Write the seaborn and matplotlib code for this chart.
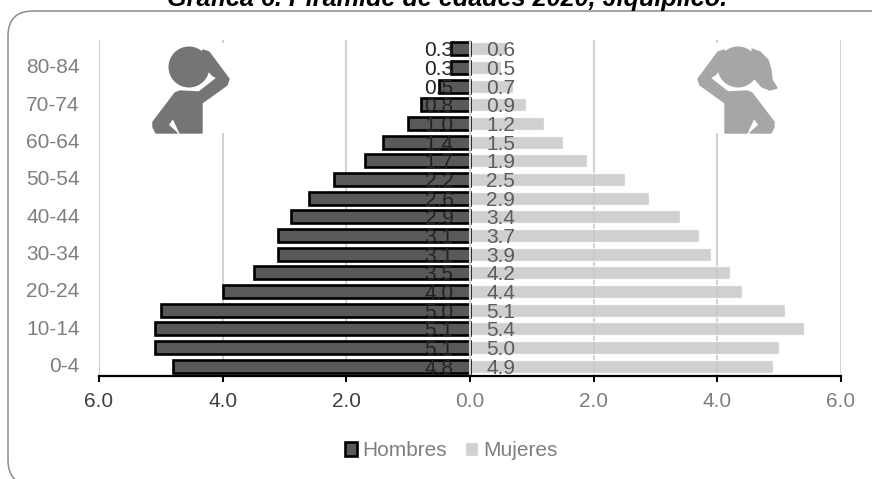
import matplotlib
matplotlib.use("Agg")
import matplotlib.pyplot as plt
from matplotlib.patches import Circle, FancyBboxPatch, Polygon, Rectangle
from matplotlib.transforms import ScaledTranslation
import pandas as pd
import seaborn as sns

# Population share by five-year age group, oldest first
edades = ["85+", "80-84", "75-79", "70-74", "65-69", "60-64", "55-59", "50-54", "45-49",
          "40-44", "35-39", "30-34", "25-29", "20-24", "15-19", "10-14", "5-9", "0-4"]
hombres = [0.3, 0.3, 0.5, 0.8, 1.0, 1.4, 1.7, 2.2, 2.6, 2.9, 3.1, 3.1, 3.5, 4.0, 5.0, 5.1, 5.1, 4.8]
mujeres = [0.6, 0.5, 0.7, 0.9, 1.2, 1.5, 1.9, 2.5, 2.9, 3.4, 3.7, 3.9, 4.2, 4.4, 5.1, 5.4, 5.0, 4.9]
ticks_x = [-6, -4, -2, 0, 2, 4, 6]
titulo = "Gráfica 6. Pirámide de edades 2020, Jiquipilco."

sns.set_theme(style="white")
plt.rcParams["font.family"] = ["Liberation Sans", "DejaVu Sans"]

W, H = 872, 479
fig = plt.figure(figsize=(W / 100, H / 100), dpi=100)
fig.patch.set_facecolor("white")


def capa_pixeles(zorder):
    """Full-figure transparent axes measured in pixels from the top-left corner."""
    capa = fig.add_axes([0, 0, 1, 1], zorder=zorder)
    capa.set_xlim(0, W)
    capa.set_ylim(H, 0)
    capa.axis("off")
    return capa


# Card outline and title behind the chart
fondo = capa_pixeles(0)
fondo.add_patch(FancyBboxPatch((33, 36), 852, 424, boxstyle="round,pad=25,rounding_size=25",
                               fc="white", ec="#8c8c8c", lw=1.1, clip_on=False))
fondo.text(447.5, 6, titulo, ha="center", va="baseline", fontsize=18.2,
           fontweight="bold", fontstyle="italic", color="black")

ax = fig.add_axes([99 / W, 1 - 375.5 / H, 742 / W, 336 / H], zorder=1)
ax.patch.set_alpha(0)

tabla = pd.DataFrame({"edad": edades, "hombres": [-v for v in hombres], "mujeres": mujeres})
sns.barplot(data=tabla, y="edad", x="mujeres", order=edades, orient="h", ax=ax,
            color="#c8c8c8", alpha=0.85, saturation=1, width=0.68, label="Mujeres", zorder=2)
sns.barplot(data=tabla, y="edad", x="hombres", order=edades, orient="h", ax=ax,
            color="#595959", edgecolor="black", linewidth=1.9, saturation=1, width=0.68,
            label="Hombres", zorder=3)

ax.set_xlim(-6, 6)
ax.set_ylim(17.5, -0.5)
ax.set_xlabel("")
ax.set_ylabel("")
ax.set_axisbelow(True)
ax.grid(axis="x", color="#d2d2d2", lw=1.5)
ax.axvline(0, color="#d4d4d4", lw=1.5, zorder=4)

for s in ("top", "left", "right"):
    ax.spines[s].set_visible(False)
ax.spines["bottom"].set_color("black")
ax.spines["bottom"].set_linewidth(1.6)
ax.spines["bottom"].set_zorder(6)

ax.set_xticks(ticks_x)
ax.set_xticklabels([f"{abs(t):.1f}" for t in ticks_x], fontsize=15)
ax.tick_params(axis="x", length=4, width=1.5, color="black", pad=8, bottom=True)
for t, lab in zip(ticks_x, ax.get_xticklabels()):
    lab.set_color("#404040" if t < 0 else "#7f7f7f")

pos_y = [i for i, e in enumerate(edades) if i % 2 == 1]
ax.set_yticks(pos_y)
ax.set_yticklabels([edades[i] for i in pos_y], fontsize=15, color="#7f7f7f")
ax.tick_params(axis="y", length=0, pad=14)
subir = ScaledTranslation(0, 1.5 / 100, fig.dpi_scale_trans)
for lab in ax.get_yticklabels():
    lab.set_transform(lab.get_transform() + subir)

# Value labels sit at a fixed offset either side of the centre line
for i, (h, m) in enumerate(zip(hombres, mujeres)):
    ax.text(-0.5, i + 0.11, f"{h:.1f}", ha="center", va="center", fontsize=15, color="#222222", zorder=5)
    ax.text(0.5, i + 0.11, f"{m:.1f}", ha="center", va="center", fontsize=15, color="#5c5c5c", zorder=5)

manejadores, etiquetas = ax.get_legend_handles_labels()
orden = [etiquetas.index("Hombres"), etiquetas.index("Mujeres")]
ley = ax.legend([manejadores[i] for i in orden], [etiquetas[i] for i in orden], ncols=2,
                loc="center", bbox_to_anchor=(451 / W, 1 - 451 / H), bbox_transform=fig.transFigure,
                frameon=False, fontsize=15, handlelength=0.62, handleheight=0.62,
                handletextpad=0.25, columnspacing=0.85, borderpad=0)
for txt in ley.get_texts():
    txt.set_color("#7f7f7f")

# Pictograms on a white patch that interrupts the grid lines
iconos = capa_pixeles(2)
for x0, ancho in ((153, 77), (699, 78)):
    iconos.add_patch(Rectangle((x0, 43), ancho, 90, fc="white", ec="none", zorder=1))


def figura(cx, signo, color):
    """Standing figure with a raised arm; signo flips it left or right of the head."""
    cuerpo = [(14, -17), (20, -15), (40, 12), (38, 18), (13, 36), (13, 66), (-9, 66), (-16, 51),
              (-21, 58), (-12, 66), (-33, 66), (-36, 60), (-36, 55), (-14, 26), (-9, 24),
              (10, 25), (28, 11), (23, 8), (10, -8)]
    iconos.add_patch(Polygon([(cx + signo * x, 67 + y) for x, y in cuerpo], closed=True, fc=color,
                             ec=color, lw=1.0, joinstyle="round", zorder=3))
    iconos.add_patch(Circle((cx, 67), 20.5, fc=color, ec="none", zorder=3))


figura(189, 1, "#757575")
figura(738, -1, "#a6a6a6")
coleta = [(752, 49), (760, 52), (768, 60), (771, 70), (772, 80), (777, 88), (770, 90), (762, 87), (754, 78)]
iconos.add_patch(Polygon(coleta, closed=True, fc="#a6a6a6", ec="#a6a6a6", lw=1, joinstyle="round", zorder=3))

fig.savefig("out.png", dpi=100, facecolor="white")
